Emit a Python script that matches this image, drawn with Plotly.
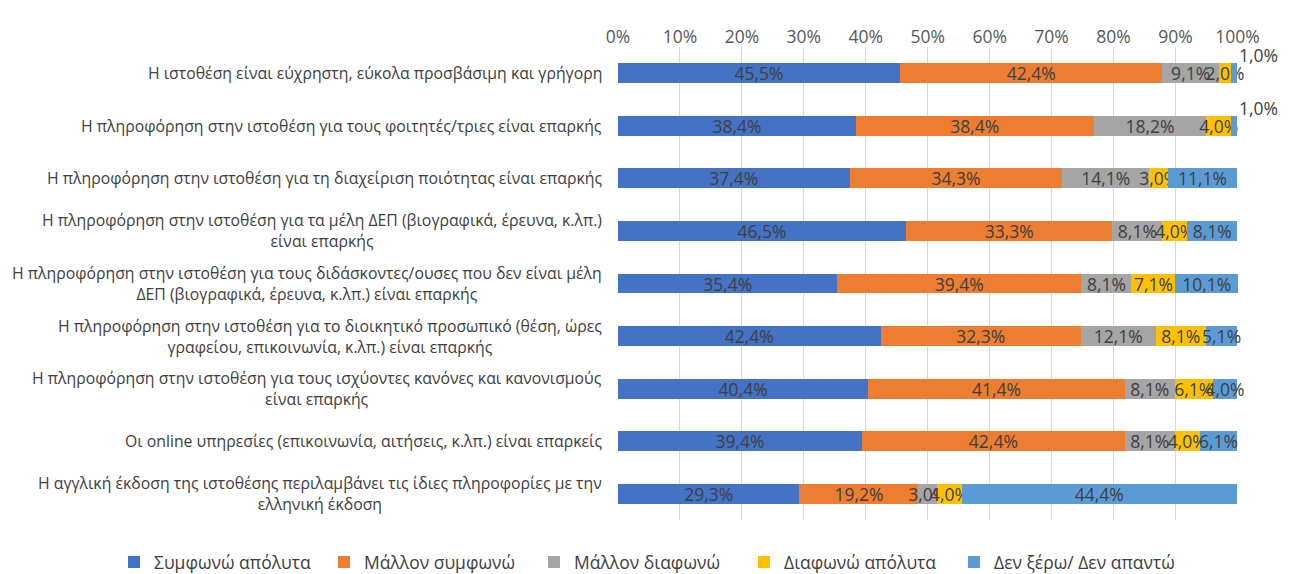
import plotly.graph_objects as go

categories = [
    "Η ιστοθέση είναι εύχρηστη, εύκολα προσβάσιμη και γρήγορη",
    "Η πληροφόρηση στην ιστοθέση για τους φοιτητές/τριες είναι επαρκής",
    "Η πληροφόρηση στην ιστοθέση για τη διαχείριση ποιότητας είναι επαρκής",
    "Η πληροφόρηση στην ιστοθέση για τα μέλη ΔΕΠ (βιογραφικά, έρευνα, κ.λπ.)<br>είναι επαρκής",
    "Η πληροφόρηση στην ιστοθέση για τους διδάσκοντες/ουσες που δεν είναι μέλη<br>ΔΕΠ (βιογραφικά, έρευνα, κ.λπ.) είναι επαρκής",
    "Η πληροφόρηση στην ιστοθέση για το διοικητικό προσωπικό (θέση, ώρες<br>γραφείου, επικοινωνία, κ.λπ.) είναι επαρκής",
    "Η πληροφόρηση στην ιστοθέση για τους ισχύοντες κανόνες και κανονισμούς<br>είναι επαρκής",
    "Οι online υπηρεσίες (επικοινωνία, αιτήσεις, κ.λπ.) είναι επαρκείς",
    "Η αγγλική έκδοση της ιστοθέσης περιλαμβάνει τις ίδιες πληροφορίες με την<br>ελληνική έκδοση",
]
cat_ids = [f"c{i}" for i in range(len(categories))]

series_names = ["Συμφωνώ απόλυτα", "Μάλλον συμφωνώ", "Μάλλον διαφωνώ", "Διαφωνώ απόλυτα", "Δεν ξέρω/ Δεν απαντώ"]
agree_full = [45.5, 38.4, 37.4, 46.5, 35.4, 42.4, 40.4, 39.4, 29.3]
agree_rather = [42.4, 38.4, 34.3, 33.3, 39.4, 32.3, 41.4, 42.4, 19.2]
disagree_rather = [9.1, 18.2, 14.1, 8.1, 8.1, 12.1, 8.1, 8.1, 3.0]
disagree_full = [2.0, 4.0, 3.0, 4.0, 7.1, 8.1, 6.1, 4.0, 4.0]
dont_know = [1.0, 1.0, 11.1, 8.1, 10.1, 5.1, 4.0, 6.1, 44.4]
series_values = [agree_full, agree_rather, disagree_rather, disagree_full, dont_know]
colors = ["#4472C4", "#ED7D31", "#A5A5A5", "#FFC000", "#5B9BD5"]
tick_vals = [0, 10, 20, 30, 40, 50, 60, 70, 80, 90, 100]
tick_text = [f"{v}%" for v in tick_vals]

FONT = "Open Sans"
TXT = "#404040"
LBL = 17.5

def fmt(v):
    return f"{v:.1f}".replace(".", ",") + "%"

fig = go.Figure()
annotations = []
legends = {}
for k, (name, vals, col) in enumerate(zip(series_names, series_values, colors)):
    texts = []
    for i, v in enumerate(vals):
        if v <= 1.0:
            texts.append("")
            annotations.append(dict(x=100, y=cat_ids[i], xref="x", yref="y", text=fmt(v),
                                    showarrow=False, xanchor="left", yanchor="middle", yshift=18,
                                    font=dict(family=FONT, size=LBL, color=TXT)))
        else:
            texts.append(fmt(v))
    lg = "legend" if k == 0 else f"legend{k + 1}"
    legends[lg] = dict(orientation="h", x=-0.8129 + k * 210 / 620, xanchor="left",
                       y=-0.051, yanchor="top", itemwidth=30,
                       font=dict(family=FONT, size=17.5, color=TXT), bgcolor="rgba(0,0,0,0)")
    fig.add_trace(go.Bar(
        y=cat_ids, x=vals, name=name, orientation="h", legend=lg,
        marker=dict(color=col, line=dict(width=0)),
        text=texts, textposition="inside", insidetextanchor="middle", textangle=0,
        textfont=dict(family=FONT, size=LBL, color=TXT),
        constraintext="none", cliponaxis=False,
    ))

for cid, label in zip(cat_ids, categories):
    annotations.append(dict(x=-0.023, y=cid, xref="paper", yref="y", text=label,
                            showarrow=False, xanchor="right", yanchor="middle", align="center",
                            font=dict(family=FONT, size=15.8, color=TXT)))

# page body adds an 8px offset; figure sized to fit the window
fig.update_layout(
    barmode="stack", bargap=0.62,
    width=1282, height=566,
    margin=dict(l=610, r=52, t=39, b=54, autoexpand=False),
    paper_bgcolor="white", plot_bgcolor="white",
    uniformtext=dict(minsize=LBL, mode="show"),
    annotations=annotations,
    showlegend=True,
    **legends,
)
fig.update_xaxes(side="top", range=[0, 100.1], tickvals=tick_vals, ticktext=tick_text,
                 showgrid=True, gridcolor="#D9D9D9", gridwidth=1, zeroline=False,
                 tickfont=dict(family=FONT, size=17.5, color="#595959"), ticks="", showline=False,
                 fixedrange=True)
fig.update_yaxes(autorange="reversed", showticklabels=False, showgrid=False, ticks="", showline=False)

fig.write_html("out.html")
